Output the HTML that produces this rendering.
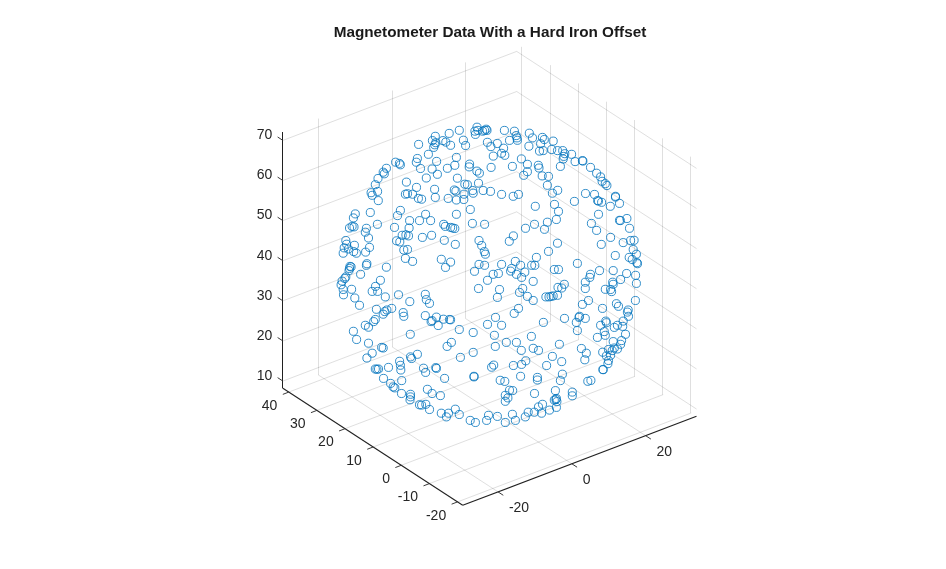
<!DOCTYPE html>
<html><head><meta charset="utf-8"><title>Magnetometer Data With a Hard Iron Offset</title>
<style>
html,body{margin:0;padding:0;background:#fff;}
body{width:946px;height:569px;overflow:hidden;font-family:"Liberation Sans",sans-serif;}
svg{display:block;}
.g{stroke:#262626;stroke-opacity:0.15;stroke-width:1;fill:none;}
.a{stroke:#222222;stroke-width:1.12;fill:none;stroke-linecap:butt;}
.tk{stroke:#303030;stroke-width:0.95;fill:none;}
.av{stroke:#202020;stroke-width:1;fill:none;}
.t{font-family:"Liberation Sans",sans-serif;font-size:14px;fill:#262626;}
.ti{font-family:"Liberation Sans",sans-serif;font-size:15.3px;font-weight:bold;fill:#1a1a1a;}
.c circle{fill:none;stroke:#0072BD;stroke-width:0.8;}
</style></head><body>
<svg style="will-change:transform;opacity:0.999" width="946" height="569" viewBox="0 0 946 569">
<rect width="946" height="569" fill="#ffffff"/>
<g><line x1="498.01" y1="491.86" x2="318.21" y2="374.88" class="g"/>
<line x1="318.50" y1="374.88" x2="318.50" y2="118.58" class="g"/>
<line x1="571.81" y1="463.76" x2="392.01" y2="346.79" class="g"/>
<line x1="392.50" y1="346.79" x2="392.50" y2="90.49" class="g"/>
<line x1="645.61" y1="435.67" x2="465.81" y2="318.70" class="g"/>
<line x1="465.50" y1="318.70" x2="465.50" y2="62.39" class="g"/>
<line x1="457.50" y1="501.91" x2="691.29" y2="412.91" class="g"/>
<line x1="690.50" y1="412.91" x2="690.50" y2="156.61" class="g"/>
<line x1="429.37" y1="483.61" x2="663.16" y2="394.61" class="g"/>
<line x1="662.50" y1="394.61" x2="662.50" y2="138.31" class="g"/>
<line x1="401.24" y1="465.31" x2="635.03" y2="376.31" class="g"/>
<line x1="634.50" y1="376.31" x2="634.50" y2="120.01" class="g"/>
<line x1="373.11" y1="447.01" x2="606.90" y2="358.01" class="g"/>
<line x1="606.50" y1="358.01" x2="606.50" y2="101.71" class="g"/>
<line x1="344.98" y1="428.71" x2="578.77" y2="339.71" class="g"/>
<line x1="578.50" y1="339.71" x2="578.50" y2="83.41" class="g"/>
<line x1="316.85" y1="410.41" x2="550.64" y2="321.41" class="g"/>
<line x1="550.50" y1="321.41" x2="550.50" y2="65.11" class="g"/>
<line x1="288.72" y1="392.11" x2="522.51" y2="303.11" class="g"/>
<line x1="521.50" y1="303.11" x2="521.50" y2="46.81" class="g"/>
<line x1="282.89" y1="381.07" x2="516.69" y2="292.06" class="g"/>
<line x1="516.69" y1="292.06" x2="696.50" y2="409.04" class="g"/>
<line x1="282.89" y1="340.96" x2="516.69" y2="251.95" class="g"/>
<line x1="516.69" y1="251.95" x2="696.50" y2="368.93" class="g"/>
<line x1="282.89" y1="300.85" x2="516.69" y2="211.84" class="g"/>
<line x1="516.69" y1="211.84" x2="696.50" y2="328.82" class="g"/>
<line x1="282.89" y1="260.74" x2="516.69" y2="171.73" class="g"/>
<line x1="516.69" y1="171.73" x2="696.50" y2="288.71" class="g"/>
<line x1="282.89" y1="220.63" x2="516.69" y2="131.62" class="g"/>
<line x1="516.69" y1="131.62" x2="696.50" y2="248.60" class="g"/>
<line x1="282.89" y1="180.52" x2="516.69" y2="91.51" class="g"/>
<line x1="516.69" y1="91.51" x2="696.50" y2="208.49" class="g"/>
<line x1="282.89" y1="140.41" x2="516.69" y2="51.40" class="g"/>
<line x1="516.69" y1="51.40" x2="696.50" y2="168.38" class="g"/>
<line x1="462.70" y1="505.30" x2="696.50" y2="416.30" class="a"/>
<line x1="462.70" y1="505.30" x2="282.89" y2="388.33" class="a"/>
<line x1="282.50" y1="388.33" x2="282.50" y2="132.02" class="av"/>
<line x1="498.01" y1="491.86" x2="503.29" y2="495.29" class="tk"/>
<line x1="571.81" y1="463.76" x2="577.09" y2="467.20" class="tk"/>
<line x1="645.61" y1="435.67" x2="650.89" y2="439.10" class="tk"/>
<line x1="457.50" y1="501.91" x2="451.61" y2="504.16" class="tk"/>
<line x1="429.37" y1="483.61" x2="423.48" y2="485.86" class="tk"/>
<line x1="401.24" y1="465.31" x2="395.35" y2="467.56" class="tk"/>
<line x1="373.11" y1="447.01" x2="367.22" y2="449.26" class="tk"/>
<line x1="344.98" y1="428.71" x2="339.09" y2="430.96" class="tk"/>
<line x1="316.85" y1="410.41" x2="310.96" y2="412.66" class="tk"/>
<line x1="288.72" y1="392.11" x2="282.83" y2="394.36" class="tk"/>
<line x1="282.89" y1="381.07" x2="277.61" y2="377.63" class="tk"/>
<line x1="282.89" y1="340.96" x2="277.61" y2="337.52" class="tk"/>
<line x1="282.89" y1="300.85" x2="277.61" y2="297.41" class="tk"/>
<line x1="282.89" y1="260.74" x2="277.61" y2="257.30" class="tk"/>
<line x1="282.89" y1="220.63" x2="277.61" y2="217.19" class="tk"/>
<line x1="282.89" y1="180.52" x2="277.61" y2="177.08" class="tk"/>
<line x1="282.89" y1="140.41" x2="277.61" y2="136.97" class="tk"/></g>
<g><text x="508.91" y="512.06" text-anchor="start" class="t">-20</text>
<text x="582.71" y="483.96" text-anchor="start" class="t">0</text>
<text x="656.51" y="455.87" text-anchor="start" class="t">20</text>
<text x="446.20" y="519.51" text-anchor="end" class="t">-20</text>
<text x="418.07" y="501.21" text-anchor="end" class="t">-10</text>
<text x="389.94" y="482.91" text-anchor="end" class="t">0</text>
<text x="361.81" y="464.61" text-anchor="end" class="t">10</text>
<text x="333.68" y="446.31" text-anchor="end" class="t">20</text>
<text x="305.55" y="428.01" text-anchor="end" class="t">30</text>
<text x="277.42" y="409.71" text-anchor="end" class="t">40</text>
<text x="272.29" y="379.87" text-anchor="end" class="t">10</text>
<text x="272.29" y="339.76" text-anchor="end" class="t">20</text>
<text x="272.29" y="299.65" text-anchor="end" class="t">30</text>
<text x="272.29" y="259.54" text-anchor="end" class="t">40</text>
<text x="272.29" y="219.43" text-anchor="end" class="t">50</text>
<text x="272.29" y="179.32" text-anchor="end" class="t">60</text>
<text x="272.29" y="139.21" text-anchor="end" class="t">70</text></g>
<text x="490" y="37" text-anchor="middle" class="ti">Magnetometer Data With a Hard Iron Offset</text>
<g class="c"><circle cx="395.6" cy="162.2" r="4.05"/><circle cx="399.4" cy="163.4" r="4.05"/><circle cx="400.4" cy="164.8" r="4.05"/><circle cx="386.4" cy="168.3" r="4.05"/><circle cx="383.2" cy="172.2" r="4.05"/><circle cx="384.3" cy="173.8" r="4.05"/><circle cx="378.0" cy="178.5" r="4.05"/><circle cx="418.6" cy="144.4" r="4.05"/><circle cx="435.3" cy="136.3" r="4.05"/><circle cx="432.4" cy="140.6" r="4.05"/><circle cx="435.8" cy="142.7" r="4.05"/><circle cx="434.8" cy="144.8" r="4.05"/><circle cx="433.7" cy="147.4" r="4.05"/><circle cx="442.9" cy="140.6" r="4.05"/><circle cx="445.8" cy="142.1" r="4.05"/><circle cx="450.6" cy="145.3" r="4.05"/><circle cx="449.2" cy="133.4" r="4.05"/><circle cx="459.3" cy="130.3" r="4.05"/><circle cx="463.4" cy="140.2" r="4.05"/><circle cx="465.6" cy="145.5" r="4.05"/><circle cx="428.4" cy="154.3" r="4.05"/><circle cx="417.4" cy="158.5" r="4.05"/><circle cx="416.3" cy="162.2" r="4.05"/><circle cx="420.5" cy="168.5" r="4.05"/><circle cx="436.6" cy="161.4" r="4.05"/><circle cx="432.1" cy="169.0" r="4.05"/><circle cx="437.4" cy="174.3" r="4.05"/><circle cx="426.3" cy="178.0" r="4.05"/><circle cx="447.4" cy="168.3" r="4.05"/><circle cx="454.8" cy="165.3" r="4.05"/><circle cx="456.4" cy="157.4" r="4.05"/><circle cx="457.4" cy="178.2" r="4.05"/><circle cx="469.6" cy="164.1" r="4.05"/><circle cx="469.2" cy="166.9" r="4.05"/><circle cx="476.9" cy="171.1" r="4.05"/><circle cx="479.4" cy="173.2" r="4.05"/><circle cx="477.0" cy="127.2" r="4.05"/><circle cx="474.9" cy="131.2" r="4.05"/><circle cx="475.4" cy="134.4" r="4.05"/><circle cx="477.9" cy="130.4" r="4.05"/><circle cx="482.6" cy="131.2" r="4.05"/><circle cx="484.6" cy="130.4" r="4.05"/><circle cx="486.2" cy="129.2" r="4.05"/><circle cx="487.0" cy="130.4" r="4.05"/><circle cx="504.4" cy="130.4" r="4.05"/><circle cx="514.4" cy="131.2" r="4.05"/><circle cx="516.2" cy="135.6" r="4.05"/><circle cx="517.0" cy="137.9" r="4.05"/><circle cx="517.4" cy="140.3" r="4.05"/><circle cx="509.5" cy="140.4" r="4.05"/><circle cx="487.4" cy="142.3" r="4.05"/><circle cx="490.9" cy="146.6" r="4.05"/><circle cx="497.3" cy="143.5" r="4.05"/><circle cx="503.6" cy="148.2" r="4.05"/><circle cx="501.6" cy="153.3" r="4.05"/><circle cx="504.8" cy="155.3" r="4.05"/><circle cx="493.3" cy="156.1" r="4.05"/><circle cx="521.4" cy="158.9" r="4.05"/><circle cx="529.3" cy="133.2" r="4.05"/><circle cx="528.9" cy="146.2" r="4.05"/><circle cx="532.5" cy="137.9" r="4.05"/><circle cx="542.4" cy="137.4" r="4.05"/><circle cx="544.3" cy="139.5" r="4.05"/><circle cx="540.6" cy="143.7" r="4.05"/><circle cx="539.5" cy="151.1" r="4.05"/><circle cx="543.2" cy="150.6" r="4.05"/><circle cx="553.2" cy="141.1" r="4.05"/><circle cx="551.7" cy="149.5" r="4.05"/><circle cx="557.5" cy="150.6" r="4.05"/><circle cx="562.7" cy="150.6" r="4.05"/><circle cx="564.8" cy="153.7" r="4.05"/><circle cx="563.8" cy="156.4" r="4.05"/><circle cx="563.2" cy="159.0" r="4.05"/><circle cx="560.4" cy="166.4" r="4.05"/><circle cx="527.4" cy="164.3" r="4.05"/><circle cx="527.4" cy="171.7" r="4.05"/><circle cx="523.7" cy="175.3" r="4.05"/><circle cx="512.4" cy="166.4" r="4.05"/><circle cx="491.1" cy="167.4" r="4.05"/><circle cx="538.3" cy="165.3" r="4.05"/><circle cx="539.0" cy="168.0" r="4.05"/><circle cx="542.2" cy="175.9" r="4.05"/><circle cx="548.5" cy="176.4" r="4.05"/><circle cx="571.6" cy="154.3" r="4.05"/><circle cx="575.1" cy="161.6" r="4.05"/><circle cx="582.4" cy="160.6" r="4.05"/><circle cx="582.9" cy="161.1" r="4.05"/><circle cx="590.5" cy="167.4" r="4.05"/><circle cx="596.6" cy="173.2" r="4.05"/><circle cx="600.6" cy="176.9" r="4.05"/><circle cx="375.3" cy="184.7" r="4.05"/><circle cx="371.1" cy="192.7" r="4.05"/><circle cx="372.2" cy="195.3" r="4.05"/><circle cx="377.6" cy="191.4" r="4.05"/><circle cx="378.3" cy="200.6" r="4.05"/><circle cx="406.4" cy="182.1" r="4.05"/><circle cx="405.4" cy="194.2" r="4.05"/><circle cx="407.5" cy="193.7" r="4.05"/><circle cx="370.3" cy="212.5" r="4.05"/><circle cx="355.3" cy="213.9" r="4.05"/><circle cx="353.4" cy="217.9" r="4.05"/><circle cx="349.5" cy="228.0" r="4.05"/><circle cx="352.1" cy="226.4" r="4.05"/><circle cx="354.0" cy="226.9" r="4.05"/><circle cx="366.4" cy="228.3" r="4.05"/><circle cx="365.3" cy="232.2" r="4.05"/><circle cx="368.5" cy="238.0" r="4.05"/><circle cx="377.4" cy="224.3" r="4.05"/><circle cx="400.4" cy="210.4" r="4.05"/><circle cx="397.5" cy="215.6" r="4.05"/><circle cx="394.5" cy="227.4" r="4.05"/><circle cx="409.6" cy="220.6" r="4.05"/><circle cx="409.1" cy="228.0" r="4.05"/><circle cx="402.2" cy="235.3" r="4.05"/><circle cx="405.9" cy="234.8" r="4.05"/><circle cx="408.5" cy="235.9" r="4.05"/><circle cx="416.5" cy="187.4" r="4.05"/><circle cx="412.6" cy="194.2" r="4.05"/><circle cx="418.4" cy="198.4" r="4.05"/><circle cx="421.6" cy="199.2" r="4.05"/><circle cx="434.6" cy="189.3" r="4.05"/><circle cx="435.3" cy="197.4" r="4.05"/><circle cx="448.2" cy="198.4" r="4.05"/><circle cx="454.3" cy="190.0" r="4.05"/><circle cx="455.9" cy="191.1" r="4.05"/><circle cx="456.4" cy="200.0" r="4.05"/><circle cx="464.0" cy="194.2" r="4.05"/><circle cx="463.8" cy="199.5" r="4.05"/><circle cx="464.8" cy="184.2" r="4.05"/><circle cx="467.4" cy="184.7" r="4.05"/><circle cx="472.7" cy="190.5" r="4.05"/><circle cx="473.2" cy="193.2" r="4.05"/><circle cx="478.5" cy="183.2" r="4.05"/><circle cx="483.2" cy="190.5" r="4.05"/><circle cx="470.3" cy="209.5" r="4.05"/><circle cx="456.4" cy="214.3" r="4.05"/><circle cx="425.6" cy="214.3" r="4.05"/><circle cx="419.5" cy="220.6" r="4.05"/><circle cx="430.6" cy="220.6" r="4.05"/><circle cx="443.7" cy="224.3" r="4.05"/><circle cx="445.3" cy="226.4" r="4.05"/><circle cx="450.6" cy="227.4" r="4.05"/><circle cx="452.7" cy="228.0" r="4.05"/><circle cx="454.8" cy="228.5" r="4.05"/><circle cx="472.4" cy="223.4" r="4.05"/><circle cx="484.6" cy="224.3" r="4.05"/><circle cx="422.4" cy="237.4" r="4.05"/><circle cx="431.6" cy="235.3" r="4.05"/><circle cx="490.5" cy="191.4" r="4.05"/><circle cx="501.6" cy="194.4" r="4.05"/><circle cx="513.2" cy="196.3" r="4.05"/><circle cx="518.5" cy="194.4" r="4.05"/><circle cx="535.3" cy="206.3" r="4.05"/><circle cx="547.4" cy="185.3" r="4.05"/><circle cx="552.4" cy="193.2" r="4.05"/><circle cx="557.7" cy="190.3" r="4.05"/><circle cx="554.5" cy="204.4" r="4.05"/><circle cx="558.5" cy="211.4" r="4.05"/><circle cx="556.4" cy="219.5" r="4.05"/><circle cx="547.4" cy="222.2" r="4.05"/><circle cx="544.5" cy="229.3" r="4.05"/><circle cx="534.5" cy="224.3" r="4.05"/><circle cx="525.5" cy="228.3" r="4.05"/><circle cx="513.4" cy="235.9" r="4.05"/><circle cx="602.1" cy="181.3" r="4.05"/><circle cx="605.3" cy="183.7" r="4.05"/><circle cx="606.9" cy="185.5" r="4.05"/><circle cx="585.5" cy="193.5" r="4.05"/><circle cx="594.5" cy="194.4" r="4.05"/><circle cx="597.6" cy="200.6" r="4.05"/><circle cx="598.5" cy="201.1" r="4.05"/><circle cx="601.6" cy="202.3" r="4.05"/><circle cx="574.4" cy="201.4" r="4.05"/><circle cx="615.5" cy="196.3" r="4.05"/><circle cx="615.5" cy="197.1" r="4.05"/><circle cx="619.5" cy="203.4" r="4.05"/><circle cx="610.3" cy="206.3" r="4.05"/><circle cx="598.5" cy="214.3" r="4.05"/><circle cx="591.4" cy="223.4" r="4.05"/><circle cx="596.6" cy="230.4" r="4.05"/><circle cx="619.5" cy="220.3" r="4.05"/><circle cx="620.4" cy="220.6" r="4.05"/><circle cx="626.9" cy="218.5" r="4.05"/><circle cx="629.5" cy="228.3" r="4.05"/><circle cx="610.6" cy="237.4" r="4.05"/><circle cx="345.8" cy="240.5" r="4.05"/><circle cx="346.6" cy="244.2" r="4.05"/><circle cx="344.2" cy="247.9" r="4.05"/><circle cx="343.2" cy="253.2" r="4.05"/><circle cx="348.4" cy="249.0" r="4.05"/><circle cx="354.4" cy="245.3" r="4.05"/><circle cx="353.7" cy="251.6" r="4.05"/><circle cx="356.4" cy="253.2" r="4.05"/><circle cx="365.6" cy="252.1" r="4.05"/><circle cx="369.5" cy="247.4" r="4.05"/><circle cx="366.9" cy="263.7" r="4.05"/><circle cx="366.4" cy="265.3" r="4.05"/><circle cx="351.1" cy="266.9" r="4.05"/><circle cx="349.5" cy="268.5" r="4.05"/><circle cx="349.0" cy="270.6" r="4.05"/><circle cx="350.0" cy="266.4" r="4.05"/><circle cx="345.8" cy="276.9" r="4.05"/><circle cx="344.8" cy="278.5" r="4.05"/><circle cx="360.6" cy="274.3" r="4.05"/><circle cx="386.4" cy="267.2" r="4.05"/><circle cx="342.1" cy="281.1" r="4.05"/><circle cx="341.1" cy="284.8" r="4.05"/><circle cx="343.2" cy="289.5" r="4.05"/><circle cx="343.5" cy="294.8" r="4.05"/><circle cx="351.6" cy="289.3" r="4.05"/><circle cx="354.8" cy="298.0" r="4.05"/><circle cx="380.4" cy="280.3" r="4.05"/><circle cx="375.5" cy="286.4" r="4.05"/><circle cx="372.2" cy="291.4" r="4.05"/><circle cx="377.6" cy="291.4" r="4.05"/><circle cx="385.3" cy="296.9" r="4.05"/><circle cx="398.5" cy="294.8" r="4.05"/><circle cx="396.6" cy="240.8" r="4.05"/><circle cx="399.8" cy="241.9" r="4.05"/><circle cx="403.8" cy="250.0" r="4.05"/><circle cx="407.5" cy="249.5" r="4.05"/><circle cx="405.4" cy="258.4" r="4.05"/><circle cx="444.3" cy="240.3" r="4.05"/><circle cx="455.3" cy="244.4" r="4.05"/><circle cx="412.6" cy="261.4" r="4.05"/><circle cx="441.3" cy="259.3" r="4.05"/><circle cx="450.6" cy="262.1" r="4.05"/><circle cx="445.5" cy="267.4" r="4.05"/><circle cx="479.0" cy="240.5" r="4.05"/><circle cx="481.7" cy="245.5" r="4.05"/><circle cx="484.3" cy="251.6" r="4.05"/><circle cx="485.4" cy="254.2" r="4.05"/><circle cx="479.0" cy="264.4" r="4.05"/><circle cx="484.6" cy="265.3" r="4.05"/><circle cx="474.5" cy="271.3" r="4.05"/><circle cx="487.5" cy="280.3" r="4.05"/><circle cx="478.5" cy="288.5" r="4.05"/><circle cx="425.3" cy="294.3" r="4.05"/><circle cx="426.3" cy="299.6" r="4.05"/><circle cx="509.3" cy="241.3" r="4.05"/><circle cx="557.5" cy="243.2" r="4.05"/><circle cx="548.5" cy="251.4" r="4.05"/><circle cx="536.4" cy="257.4" r="4.05"/><circle cx="501.6" cy="264.4" r="4.05"/><circle cx="515.3" cy="261.4" r="4.05"/><circle cx="520.6" cy="265.3" r="4.05"/><circle cx="511.6" cy="268.5" r="4.05"/><circle cx="510.6" cy="271.1" r="4.05"/><circle cx="531.6" cy="265.3" r="4.05"/><circle cx="534.8" cy="265.3" r="4.05"/><circle cx="524.8" cy="272.1" r="4.05"/><circle cx="516.4" cy="274.3" r="4.05"/><circle cx="521.6" cy="277.4" r="4.05"/><circle cx="498.4" cy="273.5" r="4.05"/><circle cx="493.2" cy="274.3" r="4.05"/><circle cx="533.2" cy="281.4" r="4.05"/><circle cx="499.5" cy="289.5" r="4.05"/><circle cx="497.4" cy="297.4" r="4.05"/><circle cx="522.7" cy="288.5" r="4.05"/><circle cx="519.5" cy="292.4" r="4.05"/><circle cx="527.4" cy="296.4" r="4.05"/><circle cx="558.5" cy="269.5" r="4.05"/><circle cx="554.3" cy="269.5" r="4.05"/><circle cx="564.3" cy="284.3" r="4.05"/><circle cx="558.0" cy="287.4" r="4.05"/><circle cx="561.7" cy="288.0" r="4.05"/><circle cx="557.5" cy="295.3" r="4.05"/><circle cx="545.9" cy="296.9" r="4.05"/><circle cx="549.0" cy="296.9" r="4.05"/><circle cx="551.1" cy="296.4" r="4.05"/><circle cx="553.2" cy="295.9" r="4.05"/><circle cx="601.3" cy="244.4" r="4.05"/><circle cx="623.2" cy="242.6" r="4.05"/><circle cx="630.6" cy="240.5" r="4.05"/><circle cx="634.1" cy="240.3" r="4.05"/><circle cx="633.2" cy="249.5" r="4.05"/><circle cx="636.4" cy="254.2" r="4.05"/><circle cx="629.2" cy="257.4" r="4.05"/><circle cx="632.2" cy="259.5" r="4.05"/><circle cx="636.9" cy="262.7" r="4.05"/><circle cx="637.5" cy="263.7" r="4.05"/><circle cx="615.3" cy="255.5" r="4.05"/><circle cx="577.4" cy="263.4" r="4.05"/><circle cx="599.5" cy="270.6" r="4.05"/><circle cx="613.2" cy="270.6" r="4.05"/><circle cx="590.5" cy="274.3" r="4.05"/><circle cx="589.8" cy="277.4" r="4.05"/><circle cx="585.3" cy="282.2" r="4.05"/><circle cx="585.3" cy="288.5" r="4.05"/><circle cx="626.6" cy="273.5" r="4.05"/><circle cx="635.6" cy="275.3" r="4.05"/><circle cx="620.6" cy="279.5" r="4.05"/><circle cx="636.4" cy="283.4" r="4.05"/><circle cx="612.7" cy="282.2" r="4.05"/><circle cx="613.2" cy="284.3" r="4.05"/><circle cx="605.3" cy="289.3" r="4.05"/><circle cx="610.6" cy="289.5" r="4.05"/><circle cx="611.6" cy="291.6" r="4.05"/><circle cx="359.5" cy="305.3" r="4.05"/><circle cx="376.4" cy="309.3" r="4.05"/><circle cx="391.7" cy="308.4" r="4.05"/><circle cx="386.9" cy="310.0" r="4.05"/><circle cx="384.8" cy="311.6" r="4.05"/><circle cx="383.2" cy="314.2" r="4.05"/><circle cx="375.3" cy="319.5" r="4.05"/><circle cx="373.7" cy="321.6" r="4.05"/><circle cx="365.3" cy="325.3" r="4.05"/><circle cx="368.5" cy="327.2" r="4.05"/><circle cx="353.4" cy="331.3" r="4.05"/><circle cx="356.6" cy="339.5" r="4.05"/><circle cx="368.5" cy="343.2" r="4.05"/><circle cx="381.6" cy="347.4" r="4.05"/><circle cx="383.2" cy="348.0" r="4.05"/><circle cx="372.2" cy="353.2" r="4.05"/><circle cx="366.9" cy="358.0" r="4.05"/><circle cx="403.2" cy="312.6" r="4.05"/><circle cx="403.8" cy="316.3" r="4.05"/><circle cx="409.8" cy="301.6" r="4.05"/><circle cx="429.5" cy="303.4" r="4.05"/><circle cx="425.3" cy="315.6" r="4.05"/><circle cx="436.4" cy="317.1" r="4.05"/><circle cx="432.1" cy="320.6" r="4.05"/><circle cx="431.1" cy="321.6" r="4.05"/><circle cx="443.5" cy="319.2" r="4.05"/><circle cx="449.5" cy="319.5" r="4.05"/><circle cx="450.6" cy="319.8" r="4.05"/><circle cx="438.2" cy="325.5" r="4.05"/><circle cx="410.3" cy="334.3" r="4.05"/><circle cx="459.3" cy="329.5" r="4.05"/><circle cx="473.2" cy="332.5" r="4.05"/><circle cx="487.5" cy="324.4" r="4.05"/><circle cx="451.4" cy="342.4" r="4.05"/><circle cx="447.1" cy="346.4" r="4.05"/><circle cx="417.4" cy="354.3" r="4.05"/><circle cx="410.5" cy="356.9" r="4.05"/><circle cx="411.6" cy="358.5" r="4.05"/><circle cx="473.2" cy="352.4" r="4.05"/><circle cx="460.4" cy="357.4" r="4.05"/><circle cx="533.2" cy="300.5" r="4.05"/><circle cx="518.5" cy="308.4" r="4.05"/><circle cx="514.2" cy="313.4" r="4.05"/><circle cx="495.5" cy="317.4" r="4.05"/><circle cx="501.6" cy="325.3" r="4.05"/><circle cx="543.4" cy="322.4" r="4.05"/><circle cx="564.5" cy="318.4" r="4.05"/><circle cx="494.4" cy="335.3" r="4.05"/><circle cx="531.4" cy="336.4" r="4.05"/><circle cx="506.3" cy="342.4" r="4.05"/><circle cx="516.4" cy="342.4" r="4.05"/><circle cx="495.3" cy="346.4" r="4.05"/><circle cx="521.3" cy="350.4" r="4.05"/><circle cx="533.2" cy="348.3" r="4.05"/><circle cx="538.5" cy="350.4" r="4.05"/><circle cx="559.4" cy="344.3" r="4.05"/><circle cx="552.4" cy="356.4" r="4.05"/><circle cx="588.5" cy="300.5" r="4.05"/><circle cx="582.4" cy="304.4" r="4.05"/><circle cx="635.4" cy="300.5" r="4.05"/><circle cx="602.5" cy="308.4" r="4.05"/><circle cx="616.4" cy="303.7" r="4.05"/><circle cx="618.5" cy="306.3" r="4.05"/><circle cx="628.2" cy="310.0" r="4.05"/><circle cx="627.4" cy="312.1" r="4.05"/><circle cx="628.5" cy="316.3" r="4.05"/><circle cx="623.2" cy="321.1" r="4.05"/><circle cx="622.7" cy="326.4" r="4.05"/><circle cx="617.4" cy="325.3" r="4.05"/><circle cx="614.3" cy="327.4" r="4.05"/><circle cx="605.8" cy="321.1" r="4.05"/><circle cx="606.4" cy="322.7" r="4.05"/><circle cx="600.6" cy="325.3" r="4.05"/><circle cx="604.3" cy="331.6" r="4.05"/><circle cx="605.3" cy="335.3" r="4.05"/><circle cx="597.4" cy="337.4" r="4.05"/><circle cx="625.5" cy="334.3" r="4.05"/><circle cx="579.5" cy="316.3" r="4.05"/><circle cx="579.0" cy="317.4" r="4.05"/><circle cx="585.3" cy="318.4" r="4.05"/><circle cx="576.3" cy="322.4" r="4.05"/><circle cx="577.4" cy="330.6" r="4.05"/><circle cx="613.2" cy="341.6" r="4.05"/><circle cx="621.6" cy="340.6" r="4.05"/><circle cx="620.6" cy="344.3" r="4.05"/><circle cx="617.4" cy="349.0" r="4.05"/><circle cx="612.2" cy="350.6" r="4.05"/><circle cx="608.5" cy="349.5" r="4.05"/><circle cx="614.3" cy="348.0" r="4.05"/><circle cx="602.7" cy="352.2" r="4.05"/><circle cx="581.4" cy="348.5" r="4.05"/><circle cx="586.3" cy="353.2" r="4.05"/><circle cx="606.4" cy="355.9" r="4.05"/><circle cx="610.6" cy="355.3" r="4.05"/><circle cx="375.3" cy="369.0" r="4.05"/><circle cx="376.9" cy="369.3" r="4.05"/><circle cx="378.5" cy="369.0" r="4.05"/><circle cx="388.5" cy="367.4" r="4.05"/><circle cx="399.6" cy="361.3" r="4.05"/><circle cx="400.4" cy="365.3" r="4.05"/><circle cx="400.8" cy="370.0" r="4.05"/><circle cx="383.5" cy="378.4" r="4.05"/><circle cx="390.6" cy="383.4" r="4.05"/><circle cx="393.2" cy="386.9" r="4.05"/><circle cx="394.8" cy="387.9" r="4.05"/><circle cx="401.7" cy="380.6" r="4.05"/><circle cx="401.5" cy="393.5" r="4.05"/><circle cx="423.5" cy="368.2" r="4.05"/><circle cx="425.6" cy="372.4" r="4.05"/><circle cx="435.8" cy="367.6" r="4.05"/><circle cx="436.4" cy="368.4" r="4.05"/><circle cx="444.6" cy="378.4" r="4.05"/><circle cx="474.0" cy="376.3" r="4.05"/><circle cx="474.0" cy="376.9" r="4.05"/><circle cx="427.4" cy="389.3" r="4.05"/><circle cx="432.1" cy="393.5" r="4.05"/><circle cx="440.4" cy="395.6" r="4.05"/><circle cx="410.5" cy="394.3" r="4.05"/><circle cx="410.5" cy="396.9" r="4.05"/><circle cx="410.0" cy="399.8" r="4.05"/><circle cx="419.5" cy="404.8" r="4.05"/><circle cx="421.6" cy="405.1" r="4.05"/><circle cx="425.8" cy="404.3" r="4.05"/><circle cx="429.5" cy="409.5" r="4.05"/><circle cx="441.3" cy="413.2" r="4.05"/><circle cx="448.5" cy="413.2" r="4.05"/><circle cx="446.4" cy="416.9" r="4.05"/><circle cx="455.3" cy="409.2" r="4.05"/><circle cx="459.3" cy="414.5" r="4.05"/><circle cx="488.5" cy="415.3" r="4.05"/><circle cx="493.7" cy="365.1" r="4.05"/><circle cx="491.6" cy="367.2" r="4.05"/><circle cx="513.4" cy="365.5" r="4.05"/><circle cx="521.6" cy="364.4" r="4.05"/><circle cx="525.8" cy="360.8" r="4.05"/><circle cx="546.6" cy="365.5" r="4.05"/><circle cx="561.7" cy="361.6" r="4.05"/><circle cx="520.6" cy="376.3" r="4.05"/><circle cx="537.4" cy="377.4" r="4.05"/><circle cx="537.4" cy="380.0" r="4.05"/><circle cx="500.2" cy="380.3" r="4.05"/><circle cx="504.8" cy="381.4" r="4.05"/><circle cx="562.4" cy="374.2" r="4.05"/><circle cx="560.4" cy="380.6" r="4.05"/><circle cx="509.5" cy="390.2" r="4.05"/><circle cx="512.7" cy="390.6" r="4.05"/><circle cx="505.3" cy="395.3" r="4.05"/><circle cx="507.9" cy="397.9" r="4.05"/><circle cx="505.3" cy="401.3" r="4.05"/><circle cx="534.5" cy="393.5" r="4.05"/><circle cx="555.4" cy="390.6" r="4.05"/><circle cx="556.4" cy="398.5" r="4.05"/><circle cx="554.3" cy="400.1" r="4.05"/><circle cx="556.9" cy="401.6" r="4.05"/><circle cx="555.9" cy="399.5" r="4.05"/><circle cx="556.4" cy="407.4" r="4.05"/><circle cx="549.5" cy="410.1" r="4.05"/><circle cx="542.5" cy="404.3" r="4.05"/><circle cx="538.5" cy="406.9" r="4.05"/><circle cx="541.6" cy="413.2" r="4.05"/><circle cx="534.3" cy="412.2" r="4.05"/><circle cx="528.2" cy="412.2" r="4.05"/><circle cx="525.3" cy="416.9" r="4.05"/><circle cx="512.4" cy="414.3" r="4.05"/><circle cx="497.4" cy="416.4" r="4.05"/><circle cx="584.8" cy="359.8" r="4.05"/><circle cx="608.5" cy="360.5" r="4.05"/><circle cx="607.9" cy="363.7" r="4.05"/><circle cx="602.9" cy="369.5" r="4.05"/><circle cx="603.2" cy="369.7" r="4.05"/><circle cx="587.8" cy="381.3" r="4.05"/><circle cx="590.9" cy="380.4" r="4.05"/><circle cx="572.3" cy="392.1" r="4.05"/><circle cx="572.3" cy="395.8" r="4.05"/><circle cx="470.2" cy="420.4" r="4.05"/><circle cx="475.4" cy="422.5" r="4.05"/><circle cx="486.6" cy="420.4" r="4.05"/><circle cx="505.3" cy="422.5" r="4.05"/><circle cx="515.4" cy="420.4" r="4.05"/></g>
</svg>
</body></html>
